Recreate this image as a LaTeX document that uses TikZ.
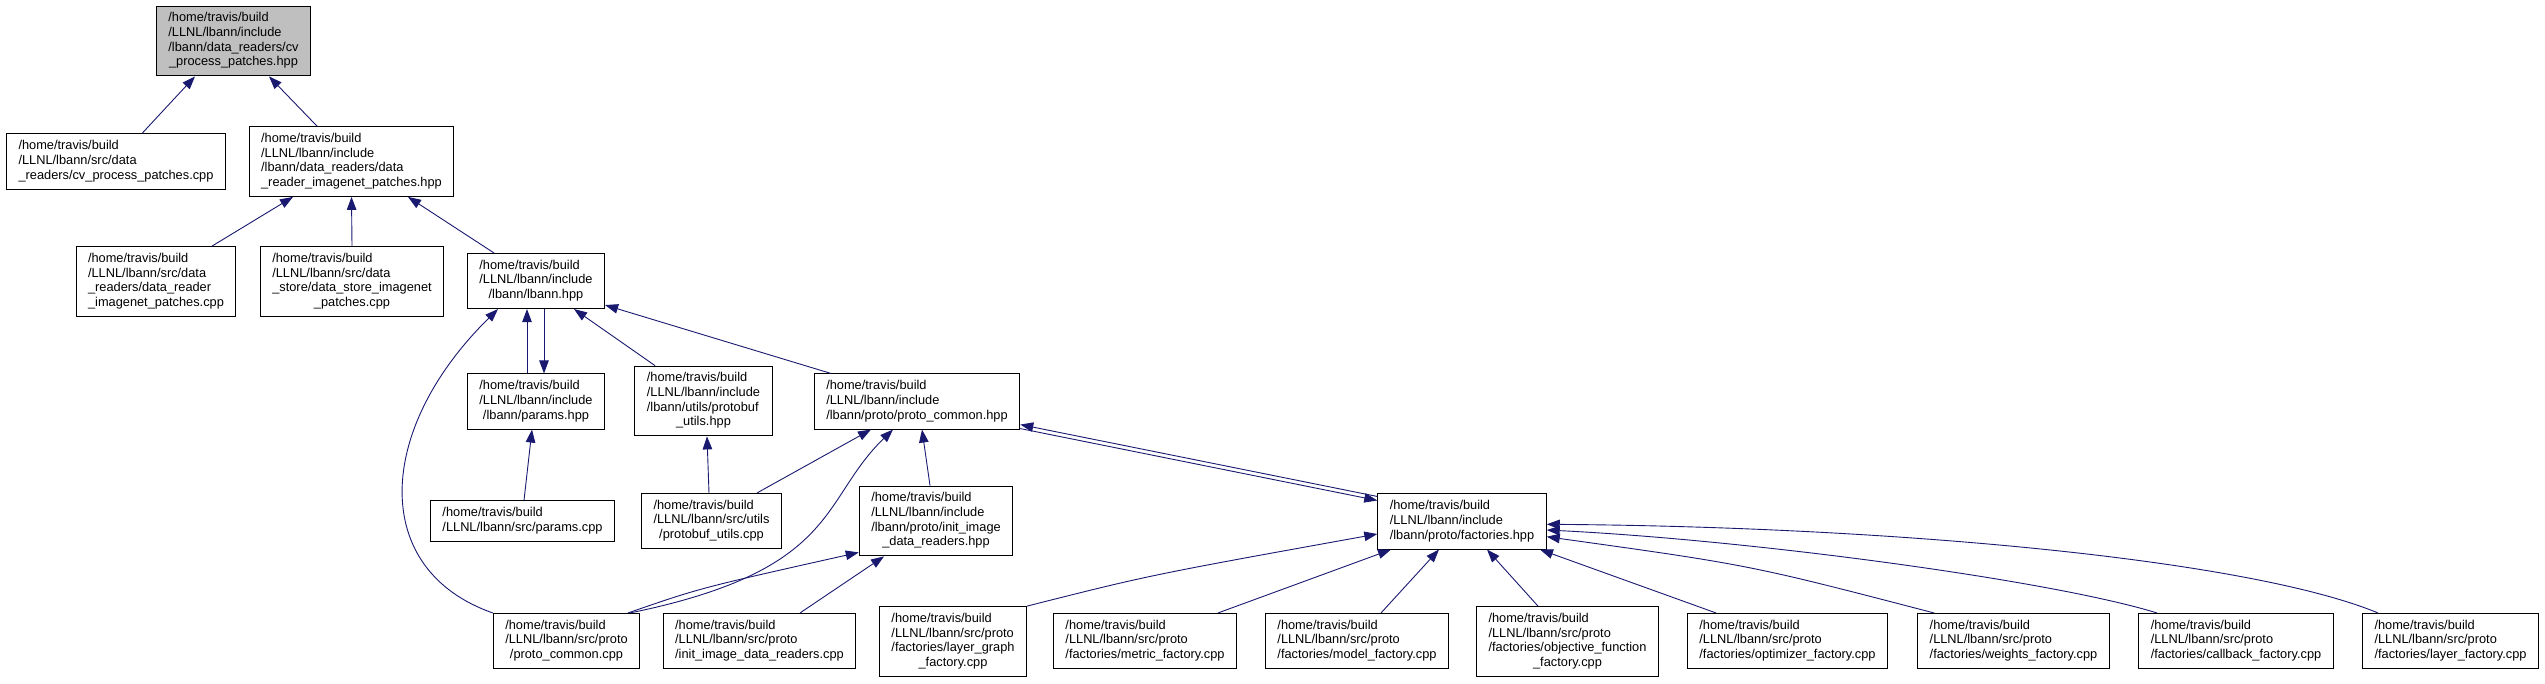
\documentclass[tikz,border=0pt]{standalone}
\usepackage{fontspec}
\setmainfont{Liberation Sans}
\usetikzlibrary{arrows.meta}
\definecolor{incblue}{RGB}{25,25,112}
\definecolor{rootgray}{RGB}{191,191,191}
\newcommand{\incpath}[2]{\begin{tabular}{@{}l@{}}#1\\\multicolumn{1}{@{}c@{}}{#2}\end{tabular}}

\begin{document}
\begin{tikzpicture}[x=1pt,y=-1pt,
  file/.style={draw=black,fill=white,line width=1pt,inner xsep=12pt,inner ysep=5.5pt,font=\fontsize{12.8pt}{14.7pt}\selectfont},
  dep/.style={draw=incblue,line width=.9pt,-{Triangle[length=13pt,width=9.5pt]}}]
\useasboundingbox (0,0) rectangle (2545,683);
% top rows
\node[file,fill=rootgray] (root) at (233.5,41) {\incpath{/home/travis/build\\/LLNL/lbann/include\\/lbann/data\_readers/cv}{\_process\_patches.hpp}};
\node[file] (cvcpp) at (116,161.5) {\incpath{/home/travis/build\\/LLNL/lbann/src/data}{\_readers/cv\_process\_patches.cpp}};
\node[file] (drhpp) at (351.5,161.5) {\incpath{/home/travis/build\\/LLNL/lbann/include\\/lbann/data\_readers/data}{\_reader\_imagenet\_patches.hpp}};
\node[file] (drcpp) at (156,281.5) {\incpath{/home/travis/build\\/LLNL/lbann/src/data\\\_readers/data\_reader}{\_imagenet\_patches.cpp}};
\node[file] (dscpp) at (352,281.5) {\incpath{/home/travis/build\\/LLNL/lbann/src/data\\\_store/data\_store\_imagenet}{\_patches.cpp}};
\node[file] (lbann) at (536,281) {\incpath{/home/travis/build\\/LLNL/lbann/include}{/lbann/lbann.hpp}};
% middle rows
\node[file] (parhpp) at (536,401.5) {\incpath{/home/travis/build\\/LLNL/lbann/include}{/lbann/params.hpp}};
\node[file] (pbhpp) at (703.5,401) {\incpath{/home/travis/build\\/LLNL/lbann/include\\/lbann/utils/protobuf}{\_utils.hpp}};
\node[file] (pchpp) at (917,401.5) {\incpath{/home/travis/build\\/LLNL/lbann/include}{/lbann/proto/proto\_common.hpp}};
\node[file] (parcpp) at (522.5,521) {\incpath{/home/travis/build}{/LLNL/lbann/src/params.cpp}};
\node[file] (pbcpp) at (711.5,521) {\incpath{/home/travis/build\\/LLNL/lbann/src/utils}{/protobuf\_utils.cpp}};
\node[file] (iihpp) at (936,521) {\incpath{/home/travis/build\\/LLNL/lbann/include\\/lbann/proto/init\_image}{\_data\_readers.hpp}};
\node[file] (fachpp) at (1462,521.5) {\incpath{/home/travis/build\\/LLNL/lbann/include}{/lbann/proto/factories.hpp}};
% bottom row
\node[file] (pccpp) at (566.5,641) {\incpath{/home/travis/build\\/LLNL/lbann/src/proto}{/proto\_common.cpp}};
\node[file] (iicpp) at (759.5,641) {\incpath{/home/travis/build\\/LLNL/lbann/src/proto}{/init\_image\_data\_readers.cpp}};
\node[file] (lgfac) at (953,641.5) {\incpath{/home/travis/build\\/LLNL/lbann/src/proto\\/factories/layer\_graph}{\_factory.cpp}};
\node[file] (metfac) at (1145,641) {\incpath{/home/travis/build\\/LLNL/lbann/src/proto}{/factories/metric\_factory.cpp}};
\node[file] (modfac) at (1357,641) {\incpath{/home/travis/build\\/LLNL/lbann/src/proto}{/factories/model\_factory.cpp}};
\node[file] (objfac) at (1567.5,641.5) {\incpath{/home/travis/build\\/LLNL/lbann/src/proto\\/factories/objective\_function}{\_factory.cpp}};
\node[file] (optfac) at (1787.5,641) {\incpath{/home/travis/build\\/LLNL/lbann/src/proto}{/factories/optimizer\_factory.cpp}};
\node[file] (wfac) at (2013.5,641) {\incpath{/home/travis/build\\/LLNL/lbann/src/proto}{/factories/weights\_factory.cpp}};
\node[file] (cbfac) at (2236,641) {\incpath{/home/travis/build\\/LLNL/lbann/src/proto}{/factories/callback\_factory.cpp}};
\node[file] (layfac) at (2450.5,641) {\incpath{/home/travis/build\\/LLNL/lbann/src/proto}{/factories/layer\_factory.cpp}};
% straight includes
\foreach \a/\sa/\b/\sb in {cvcpp/26/root/-38.5,drhpp/-34.5/root/35.5,drcpp/56/drhpp/-58.5,dscpp/0/drhpp/0,lbann/-42/drhpp/56.5,parhpp/-9/lbann/-9,pbhpp/-48.5/lbann/38,parcpp/1.5/parhpp/-4,pbcpp/-2.5/pbhpp/3.5,pbcpp/45.5/pchpp/-46,iihpp/-6/pchpp/5,iicpp/40.5/iihpp/-52,metfac/73/fachpp/-71,modfac/24/fachpp/-23,objfac/-29.5/fachpp/25,optfac/-71.5/fachpp/78}
  \draw[dep] ([xshift=\sa pt]\a.north) -- ([xshift=\sb pt]\b.south);
\draw[dep] ([xshift=8pt]lbann.south) -- ([xshift=8pt]parhpp.north);
\draw[dep] ([xshift=-86pt]pchpp.north) -- ([yshift=4pt]lbann.south east);
\draw[dep] ([yshift=-3pt]fachpp.north west) -- ([yshift=5pt]pchpp.south east);
\draw[dep] ([yshift=1pt]pchpp.south east) -- ([yshift=-7pt]fachpp.north west);
% curved includes
\draw[dep] (pccpp.north west) .. controls (370,570) and (375,430) .. ([xshift=-38pt]lbann.south);
\draw[dep] ([xshift=63.5pt]pccpp.north) .. controls (840,570) and (820,500) .. ([xshift=-24pt]pchpp.south);
\draw[dep] ([xshift=61.5pt]pccpp.north) .. controls (700,588) .. ([yshift=4pt]iihpp.south west);
\draw[dep] (lgfac.north east) .. controls (1150,575) .. ([yshift=-12.5pt]fachpp.west);
\draw[dep] ([xshift=-79.5pt]wfac.north) .. controls (1750,565) .. ([yshift=-15.2pt]fachpp.east);
\draw[dep] ([xshift=-79pt]cbfac.north) .. controls (2050,580) and (1750,540) .. ([yshift=-8.5pt]fachpp.east);
\draw[dep] ([xshift=-72.5pt]layfac.north) .. controls (2250,560) and (1900,527) .. ([yshift=-2.8pt]fachpp.east);
\end{tikzpicture}
\end{document}
